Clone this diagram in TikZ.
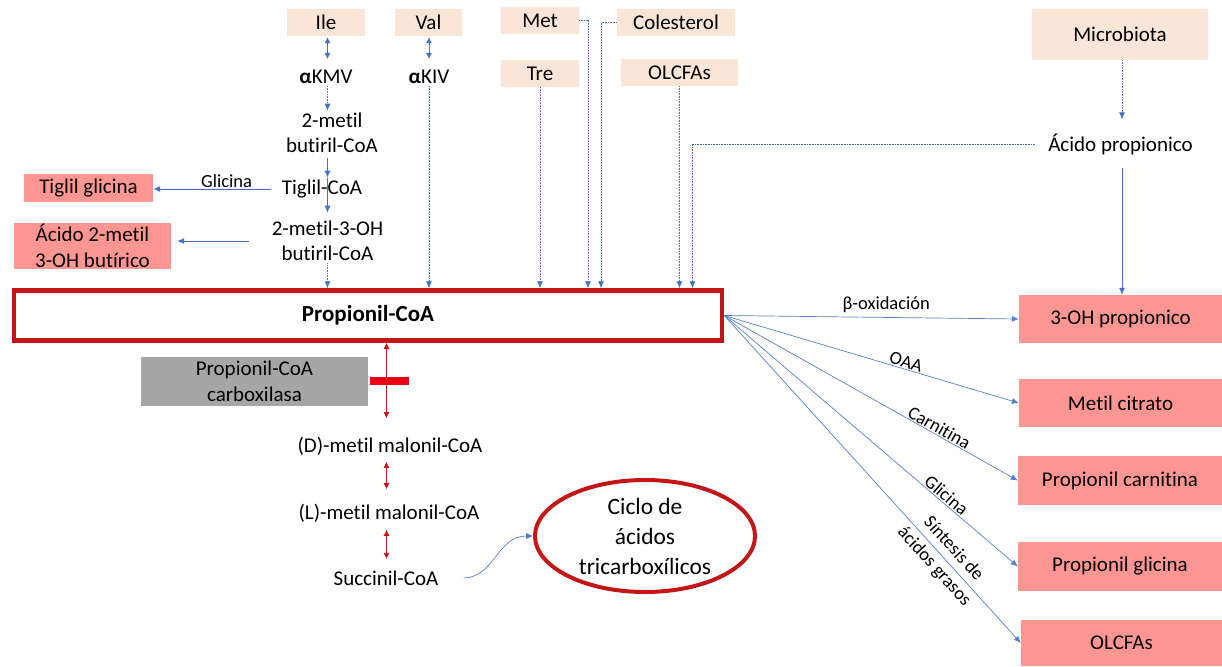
\documentclass[tikz,border=0pt]{standalone}
\usepackage{fontspec}
\setmainfont{Carlito}[Ligatures=NoCommon]
\usetikzlibrary{arrows.meta,calc,shapes.geometric}

\definecolor{peach}{RGB}{251,229,214}
\definecolor{salmon}{RGB}{255,150,146}
\definecolor{darkred}{RGB}{196,22,22}
\definecolor{inhibred}{RGB}{235,0,20}
\definecolor{flowblue}{RGB}{68,114,196}
\definecolor{enzgray}{RGB}{166,166,166}

\newcommand\setfs[2]{\fontsize{#1}{#2}\selectfont}

\begin{document}
\begin{tikzpicture}[x=1pt,y=-1pt,
  txtbase/.style={inner sep=0pt, align=center, font=\setfs{21}{25.5}},
  src/.style={txtbase, fill=peach},
  prod/.style={txtbase, fill=salmon},
  txt/.style={txtbase, inner sep=2pt},
  lbl/.style={inner sep=1pt, align=center, font=\setfs{18.5}{22}},
  headtip/.style={-{Latex[length=7pt,width=6pt]}},
  flowarrow/.style={draw=flowblue, line width=0.8pt, headtip},
  dotflow/.style={flowarrow, dash pattern=on 0.9pt off 0.7pt},
  dblflow/.style={draw=flowblue, line width=0.8pt, {Latex[length=6pt,width=6pt]}-{Latex[length=6pt,width=6pt]}},
  redboth/.style={draw=darkred, line width=0.8pt, {Latex[length=6pt,width=6pt]}-{Latex[length=6pt,width=6pt]}},
  fanarrow/.style={draw=flowblue!90, line width=0.7pt, headtip},
]
\useasboundingbox (0,0) rectangle (1222,666);

% sources
\node[src, minimum width=78, minimum height=27] (ile) at (326,22.5) {Ile};
\node[src, minimum width=67, minimum height=27] (val) at (428.5,22.5) {Val};
\node[src, minimum width=78, minimum height=27] (met) at (540,20.5) {Met};
\node[src, minimum width=118, minimum height=27] (col) at (676,22.5) {Colesterol};
\node[src, minimum width=78, minimum height=27] (tre) at (540,73.5) {Tre};
\node[src, minimum width=117, minimum height=27] (olcin) at (679.5,72.5) {OLCFAs};
\node[src, minimum width=176, minimum height=51] (micro) at (1120,34.5) {Microbiota};

% intermediates
\node[txt] (akmv) at (326,77) {\textbf{α}KMV};
\node[txt] (akiv) at (429,77) {\textbf{α}KIV};
\node[txt] (mbut) at (332,133) {2-metil\\butiril-CoA};
\node[txt] (tigl) at (322,189) {Tiglil-CoA};
\node[txt] (mhb) at (327.5,241) {2-metil-3-OH\\butiril-CoA};
\node[txt] (acp) at (1120.5,144) {Ácido propionico};

% products
\node[prod, minimum width=129, minimum height=28] (tigg) at (88.5,188) {Tiglil glicina};
\node[prod, minimum width=157, minimum height=46] (ahb) at (92.5,246) {Ácido 2-metil\\3-OH butírico};
\node[prod, minimum width=203, minimum height=48] (ohp) at (1120.5,319) {3-OH propionico};
\node[prod, minimum width=203, minimum height=48] (mcit) at (1120.5,403) {Metil citrato};
\node[prod, minimum width=204, minimum height=49] (pcar) at (1120,480.5) {Propionil carnitina};
\node[prod, minimum width=204, minimum height=49] (pgli) at (1120,566.5) {Propionil glicina};
\node[prod, minimum width=201, minimum height=46] (olcout) at (1121.5,643) {OLCFAs};

% central metabolite
\node[draw=darkred, line width=4.5pt, minimum width=708, minimum height=50, inner sep=0pt,
      font=\bfseries\setfs{23}{28}] (pcoa) at (368,315.5) {Propionil-CoA};

% enzyme and downstream pathway
\node[txtbase, fill=enzgray, minimum width=227, minimum height=49] (pcc) at (254.5,381.5) {Propionil-CoA\\carboxilasa};
\node[txt] (dmm) at (390,446) {(D)-metil malonil-CoA};
\node[txt] (lmm) at (389,513) {(L)-metil malonil-CoA};
\node[txt] (succ) at (386,578) {Succinil-CoA};
\node[ellipse, draw=darkred, line width=4pt, minimum width=220, minimum height=112, inner sep=0pt,
      align=center, font=\setfs{23.4}{30}] (tca) at (645,536) {Ciclo de\\ácidos\\tricarboxílicos};
\node[fill=inhibred, minimum width=39, minimum height=8, inner sep=0pt] (block) at (389.5,381) {};

% column guides
\coordinate (colA) at (327.5,0);
\coordinate (colB) at (429,0);
\coordinate (metx) at (588,0);
\coordinate (colx) at (601,0);
\coordinate (acpx) at (692.5,0);
\coordinate (mx) at (1122,0);
\coordinate (rx) at (386.5,0);

% isoleucine branch
\draw[dblflow, shorten <=1pt, shorten >=9pt] (ile.south -| colA) -- (akmv.north -| colA);
\draw[dotflow] (akmv.south -| colA) -- (mbut.north -| colA);
\draw[flowarrow, shorten <=3pt] (mbut.south -| colA) -- (tigl.north -| colA);
\draw[flowarrow, shorten >=6pt] (tigl.north -| colA) -- (mhb.north -| colA);
\draw[dotflow] (mhb.south -| colA) -- (colA |- pcoa.north);
\draw[flowarrow, shorten <=9pt] (tigl.west) -- node[lbl, above, pos=0.42] {Glicina} (tigl.west -| tigg.east);
\draw[flowarrow, shorten <=21pt, shorten >=6pt] (mhb.west) -- (mhb.west -| ahb.east);

% valine branch
\draw[dblflow, shorten <=1pt, shorten >=9pt] (val.south -| colB) -- (akiv.north -| colB);
\draw[dotflow] (akiv.south -| colB) -- (colB |- pcoa.north);

% other sources
\draw[dotflow] (tre.south) -- (tre.south |- pcoa.north);
\draw[dotflow] (met.east) -| (metx |- pcoa.north);
\draw[dotflow] (col.west) -| (colx |- pcoa.north);
\draw[dotflow] (olcin.south) -- (olcin.south |- pcoa.north);
\draw[dotflow, shorten <=11pt] (acp.west) -| (acpx |- pcoa.north);
\draw[dotflow, shorten >=12pt] (micro.south -| mx) -- (acp.north -| mx);
\draw[flowarrow, shorten <=11pt] (acp.south -| mx) -- (ohp.north -| mx);

% fates of propionyl-CoA
\draw[fanarrow] (pcoa.east) -- node[lbl, above=3pt, pos=0.55] {β-oxidación} (ohp.west);
\draw[fanarrow] (pcoa.east) -- node[lbl, sloped, above, pos=0.61] {OAA} (mcit.west);
\draw[fanarrow] (pcoa.east) -- node[lbl, sloped, above, pos=0.72] {Carnitina} (pcar.west);
\draw[fanarrow] (pcoa.east) -- node[lbl, sloped, above, pos=0.74] {Glicina} (pgli.west);
\draw[fanarrow] (pcoa.east) -- node[lbl, sloped, pos=0.74, font=\setfs{18.5}{26}] {Síntesis de\\ácidos grasos} (olcout.west);

% carboxylation route
\draw[redboth, shorten >=16.5pt] (pcoa.south -| rx) -- (dmm.north -| rx);
\draw[redboth, shorten <=4.5pt, shorten >=12.5pt] (dmm.south -| rx) -- (lmm.north -| rx);
\draw[redboth, shorten <=5.5pt, shorten >=9.5pt] (lmm.south -| rx) -- (succ.north -| rx);
\draw[flowarrow, line width=0.6pt] ([xshift=23pt]succ.east) .. controls (495,577) and (497,536) .. (tca.west);
\end{tikzpicture}
\end{document}
